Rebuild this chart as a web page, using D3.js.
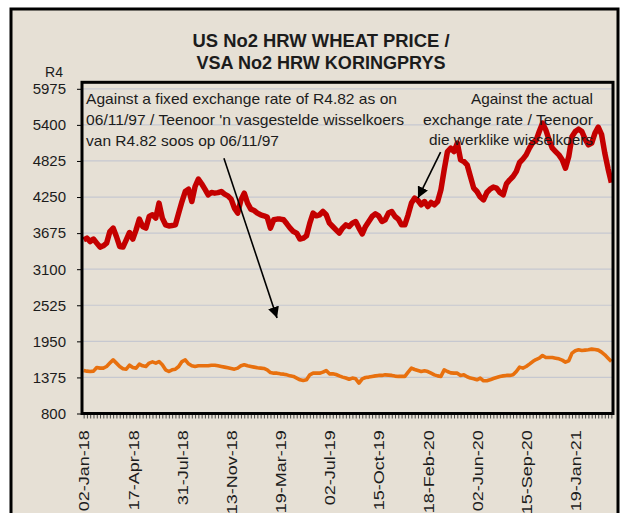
<!DOCTYPE html>
<html>
<head>
<meta charset="utf-8">
<script src="https://cdn.jsdelivr.net/npm/d3@7"></script>
<style>
  body { margin: 0; background: #fff; }
  svg text { font-family: "Liberation Sans", Arial, sans-serif; fill: #1c1c1c; }
</style>
</head>
<body>
<div id="chart"></div>
<script>
const WIDTH = 627, HEIGHT = 513;
const PLOT = { left: 82, right: 613, top: 88.8, bottom: 413.5 };

// weekly categories, a label on every 15th one
const tickLabels = ['02-Jan-18', '17-Apr-18', '31-Jul-18', '13-Nov-18', '19-Mar-19', '02-Jul-19',
  '15-Oct-19', '18-Feb-20', '02-Jun-20', '15-Sep-20', '19-Jan-21'];
const LABEL_EVERY = 15;
const yTicks = [800, 1375, 1950, 2525, 3100, 3675, 4250, 4825, 5400, 5975];

// R/ton at the actual exchange rate
const actualRate = [
  3568, 3595, 3541, 3580, 3515, 3452, 3473, 3515, 3700, 3755,
  3621, 3462, 3452, 3568, 3685, 3580, 3727, 3898, 3781, 3755,
  3940, 3967, 3914, 4153, 3914, 3807, 3790, 3795, 3807, 3994,
  4178, 4338, 4376, 4178, 4418, 4536, 4461, 4376, 4285, 4322,
  4312, 4320, 4338, 4296, 4269, 4216, 4073, 3994, 4205, 4312,
  4153, 4057, 4035, 3994, 3967, 3951, 3930, 3755, 3887, 3898,
  3898, 3887, 3823, 3755, 3700, 3675, 3580, 3595, 3632, 3834,
  3994, 3951, 3967, 4019, 3967, 3834, 3781, 3727, 3675, 3755,
  3807, 3780, 3834, 3860, 3755, 3664, 3781, 3860, 3940, 3983,
  3951, 3860, 3887, 3994, 4019, 3940, 3898, 3807, 3807, 3967,
  4153, 4233, 4195, 4126, 4178, 4099, 4163, 4126, 4178, 4365,
  4684, 4975, 5029, 4975, 5109, 4843, 4816, 4763, 4577, 4392,
  4338, 4250, 4205, 4322, 4376, 4408, 4392, 4322, 4285, 4461,
  4524, 4577, 4656, 4800, 4854, 4922, 5029, 5118, 5150, 5294,
  5427, 5320, 5161, 5029, 4975, 4922, 4843, 4710, 4895, 5214,
  5294, 5332, 5294, 5172, 5082, 5109, 5268, 5363, 5250, 4950,
  4700, 4480
];

// R/ton at the fixed rate of R4.82
const fixedRate = [
  1485, 1475, 1469, 1475, 1533, 1523, 1523, 1549, 1603, 1655,
  1603, 1549, 1512, 1507, 1570, 1533, 1523, 1587, 1560, 1549,
  1603, 1622, 1603, 1628, 1576, 1496, 1469, 1496, 1507, 1549,
  1628, 1655, 1592, 1560, 1549, 1560, 1560, 1560, 1560, 1570,
  1570, 1560, 1549, 1539, 1528, 1518, 1507, 1523, 1560, 1576,
  1560, 1549, 1539, 1528, 1523, 1518, 1496, 1453, 1443, 1443,
  1432, 1427, 1416, 1400, 1390, 1364, 1337, 1326, 1337, 1416,
  1443, 1443, 1443, 1459, 1485, 1432, 1432, 1422, 1400, 1380,
  1365, 1345, 1364, 1353, 1284, 1353, 1374, 1380, 1391, 1400,
  1407, 1407, 1416, 1411, 1407, 1396, 1391, 1391, 1391, 1459,
  1523, 1501, 1485, 1469, 1480, 1469, 1443, 1416, 1400, 1391,
  1496, 1469, 1448, 1443, 1443, 1407, 1416, 1385, 1364, 1353,
  1337, 1364, 1321, 1321, 1337, 1358, 1374, 1391, 1400, 1407,
  1407, 1416, 1469, 1539, 1523, 1549, 1587, 1628, 1660, 1682,
  1724, 1692, 1692, 1692, 1682, 1671, 1650, 1619, 1640, 1762,
  1799, 1815, 1804, 1810, 1815, 1826, 1820, 1810, 1778, 1735,
  1682, 1628
];

const N = actualRate.length;

const x = d3.scaleLinear().domain([-0.5, N - 0.5]).range([PLOT.left, PLOT.right]);
const y = d3.scaleLinear().domain([800, 5975]).range([PLOT.bottom, PLOT.top]);

const svg = d3.select('#chart').append('svg')
  .attr('width', WIDTH)
  .attr('height', HEIGHT);

// outer frame
svg.append('rect')
  .attr('x', 11).attr('y', 9)
  .attr('width', 607).attr('height', 530)
  .attr('fill', '#e6e0d5')
  .attr('stroke', '#000')
  .attr('stroke-width', 3);

// title
const title = svg.append('g').attr('font-weight', 'bold').attr('font-size', 18).attr('text-anchor', 'middle');
title.append('text').attr('x', 321).attr('y', 47).attr('textLength', 257).attr('lengthAdjust', 'spacingAndGlyphs')
  .text('US No2 HRW WHEAT PRICE /');
title.append('text').attr('x', 321).attr('y', 69).attr('textLength', 249).attr('lengthAdjust', 'spacingAndGlyphs')
  .text('VSA No2 HRW KORINGPRYS');

// gridlines
svg.append('g')
  .selectAll('line')
  .data(yTicks)
  .enter().append('line')
  .attr('x1', PLOT.left).attr('x2', PLOT.right)
  .attr('y1', d => y(d)).attr('y2', d => y(d))
  .attr('stroke', '#c6c8d0')
  .attr('stroke-width', 1.2);

// y axis
const yAxis = d3.axisLeft(y)
  .tickValues(yTicks)
  .tickSize(5)
  .tickPadding(11)
  .tickFormat(d3.format('d'));

const yG = svg.append('g')
  .attr('transform', `translate(${PLOT.left}, 0)`)
  .call(yAxis);
yG.select('.domain').remove();
yG.selectAll('.tick line').attr('stroke', '#000');
yG.selectAll('.tick text').attr('font-size', 15).attr('fill', '#1c1c1c').attr('font-family', null);

svg.append('text')
  .attr('x', 63).attr('y', 77)
  .attr('text-anchor', 'end')
  .attr('font-size', 14)
  .text('R4');

// x axis: a tick on every week, a label on every 15th
const xAxis = d3.axisBottom(x)
  .tickValues(d3.range(N))
  .tickSize(5)
  .tickSizeOuter(0)
  .tickFormat(i => i % LABEL_EVERY === 0 ? tickLabels[i / LABEL_EVERY] : '');

const xG = svg.append('g')
  .attr('transform', `translate(0, ${PLOT.bottom})`)
  .call(xAxis);
xG.select('.domain').remove();
xG.selectAll('.tick line').attr('stroke', '#222').attr('stroke-width', 0.8);
xG.selectAll('.tick text')
  .attr('font-size', 15)
  .attr('fill', '#1c1c1c')
  .attr('font-family', null)
  .attr('text-anchor', 'end')
  .attr('transform', 'rotate(-90) scale(1.2, 1)')
  .attr('x', -14)
  .attr('y', 0)
  .attr('dy', '0.35em');

// lines
const line = d3.line()
  .x((d, i) => x(i))
  .y(d => y(d))
  .curve(d3.curveLinear);

svg.append('path')
  .datum(fixedRate)
  .attr('fill', 'none')
  .attr('stroke', '#e8700e')
  .attr('stroke-width', 3.6)
  .attr('stroke-linejoin', 'round')
  .attr('d', line);

svg.append('path')
  .datum(actualRate)
  .attr('fill', 'none')
  .attr('stroke', '#c40000')
  .attr('stroke-width', 5.5)
  .attr('stroke-linejoin', 'round')
  .attr('d', line);

// plot frame
svg.append('rect')
  .attr('x', PLOT.left).attr('y', PLOT.top - 6.5)
  .attr('width', PLOT.right - PLOT.left)
  .attr('height', PLOT.bottom - PLOT.top + 6.5)
  .attr('fill', 'none')
  .attr('stroke', '#000')
  .attr('stroke-width', 3);

// annotations
const notes = svg.append('g').attr('font-size', 15).style('white-space', 'pre');
const leftNote = [
  { text: 'Against a fixed  exchange rate of R4.82 as on', y: 104, w: 311 },
  { text: "06/11/97 / Teenoor 'n vasgestelde wisselkoers", y: 125, w: 318 },
  { text: 'van R4.82 soos op 06/11/97', y: 146, w: 193 }
];
const rightNote = [
  { text: 'Against the actual', y: 103.5, w: 122 },
  { text: 'exchange rate / Teenoor', y: 125, w: 170 },
  { text: 'die werklike wisselkoers', y: 145, w: 164 }
];
notes.selectAll('text.left')
  .data(leftNote)
  .enter().append('text')
  .attr('class', 'left')
  .attr('x', 86)
  .attr('y', d => d.y)
  .attr('textLength', d => d.w)
  .attr('lengthAdjust', 'spacingAndGlyphs')
  .text(d => d.text);
notes.selectAll('text.right')
  .data(rightNote)
  .enter().append('text')
  .attr('class', 'right')
  .attr('x', d => 593 - d.w)
  .attr('y', d => d.y)
  .attr('textLength', d => d.w)
  .attr('lengthAdjust', 'spacingAndGlyphs')
  .text(d => d.text);

// arrows, in data units (week index, rand)
const arrows = [
  { from: [42.8, 4870], to: [59, 2321] },
  { from: [108.9, 4966], to: [102, 4233] }
];

svg.append('defs').append('marker')
  .attr('id', 'head')
  .attr('viewBox', '0 0 10 10')
  .attr('refX', 10).attr('refY', 5)
  .attr('markerWidth', 7).attr('markerHeight', 7)
  .attr('markerUnits', 'strokeWidth')
  .attr('orient', 'auto')
  .append('path')
  .attr('d', 'M0,0 L10,5 L0,10 z')
  .attr('fill', '#000');

svg.append('g')
  .selectAll('line')
  .data(arrows)
  .enter().append('line')
  .attr('x1', d => x(d.from[0])).attr('y1', d => y(d.from[1]))
  .attr('x2', d => x(d.to[0])).attr('y2', d => y(d.to[1]))
  .attr('stroke', '#000')
  .attr('stroke-width', 1.6)
  .attr('marker-end', 'url(#head)');
</script>
</body>
</html>
